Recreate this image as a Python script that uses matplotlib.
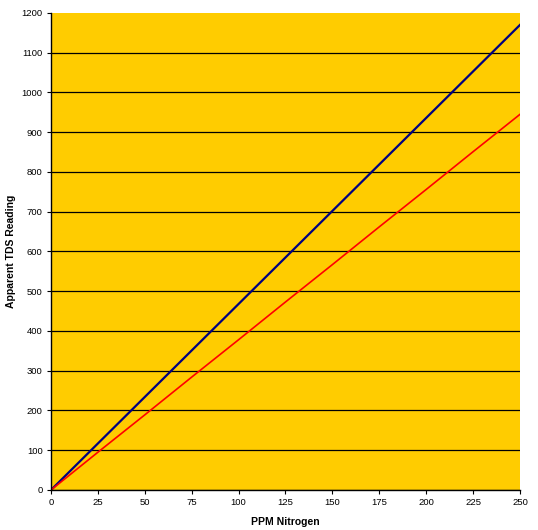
import matplotlib
matplotlib.use("Agg")
import matplotlib.pyplot as plt

# Dados
ppm = [0, 25, 50, 75, 100, 125, 150, 175, 200, 225, 250]
tds_azul = [0, 117, 234, 351, 468, 585, 702, 819, 936, 1053, 1170]
tds_vermelho = [0, 95, 189, 284, 378, 473, 567, 662, 756, 851, 945]

AMARELO = "#FFCC00"

plt.rcParams["font.family"] = ["Liberation Sans", "DejaVu Sans"]

fig = plt.figure(figsize=(5.38, 5.3), dpi=100)
ax = fig.add_axes([0.0948, 0.0755, 0.8717, 0.9])
ax.set_facecolor(AMARELO)

ax.plot(ppm, tds_azul, color="#000080", lw=1.6)
ax.plot(ppm, tds_vermelho, color="#FF0000", lw=1.2)

ax.set_xlim(0, 250)
ax.set_ylim(0, 1200)
ax.set_xticks(range(0, 251, 25))
ax.set_yticks(range(0, 1201, 100))
ax.grid(axis="y", color="black", lw=0.9)
ax.yaxis.get_gridlines()[-1].set_visible(False)  # sem linha no topo
ax.set_axisbelow(True)
for lado in ("top", "right"):
    ax.spines[lado].set_visible(False)
for lado in ("left", "bottom"):
    ax.spines[lado].set_linewidth(1.0)
ax.tick_params(direction="out", length=3, width=0.8, labelsize=6.8, pad=3)

ax.set_xlabel("PPM Nitrogen", fontsize=7.5, fontweight="bold", labelpad=7)
ax.set_ylabel("Apparent TDS Reading", fontsize=7.5, fontweight="bold", labelpad=4)

fig.savefig("out.png", dpi=100, facecolor="white")
